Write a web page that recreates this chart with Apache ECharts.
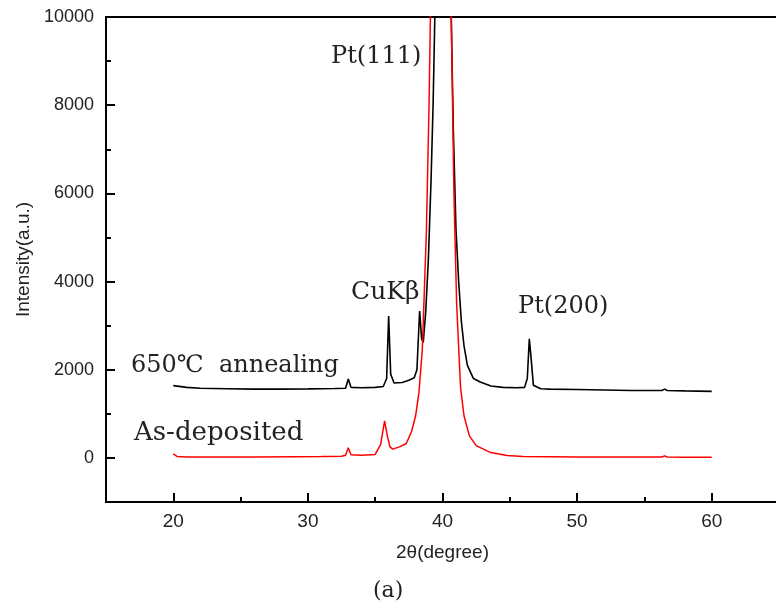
<!DOCTYPE html>
<html>
<head>
<meta charset="utf-8">
<script src="https://cdn.jsdelivr.net/npm/echarts@6/dist/echarts.min.js"></script>
<style>
html,body{margin:0;padding:0;background:#fff;}
#chart{width:776px;height:606px;}
</style>
</head>
<body>
<div id="chart"></div>
<script>
// 650℃ annealing (black)
var annealX = [20.0,21,22,24,26,28,30,32,32.8,33.0,33.2,34,35,35.6,35.85,36.0,36.15,36.4,37.0,37.5,37.9,38.1,38.3,38.45,38.57,38.75,38.95,39.15,39.3,39.43,39.7,39.95,40.2,40.5,40.65,40.8,41.0,41.2,41.4,41.6,41.85,42.3,42.8,43.6,44.5,45.5,46.1,46.3,46.45,46.6,46.75,47.3,48,50,52,54,56.3,56.5,56.7,58,60];
var annealY = [1640,1600,1580,1570,1560,1560,1565,1575,1580,1790,1600,1590,1600,1620,1800,3220,1900,1700,1710,1760,1820,2000,3330,2700,2620,3300,4500,6300,8000,10000,16000,20000,16000,11500,10000,7500,5200,4000,3100,2540,2100,1800,1720,1630,1600,1590,1600,1800,2700,2200,1650,1570,1560,1550,1540,1530,1530,1560,1530,1520,1510];
// As-deposited (red)
var depX = [20.0,20.3,21,23,26,29,31,32.5,32.8,33.0,33.2,34,35,35.4,35.7,35.9,36.1,36.3,36.8,37.3,37.7,38.0,38.25,38.5,38.8,39.0,39.1,39.5,39.9,40.3,40.65,40.85,41.05,41.34,41.6,42.0,42.5,43.5,44.8,46,48,50,53,56.3,56.5,56.7,58,60];
var depY = [90,30,20,20,20,25,30,40,60,230,70,60,80,300,840,500,250,200,250,320,600,950,1480,2460,5100,8000,10000,18000,22000,17000,10000,6000,3500,1600,950,500,280,130,55,30,25,20,20,20,45,20,15,15];

var xMajor = [20,30,40,50,60];
var xMinor = [25,35,45,55];
var yMajor = [0,2000,4000,6000,8000,10000];
var yMinor = [1000,3000,5000,7000,9000];

function pairs(xs, ys){ return xs.map(function(x,i){return [x, ys[i]];}); }

var chart = echarts.init(document.getElementById('chart'), null, {renderer:'canvas'});
var serif = '"DejaVu Serif", "Liberation Serif", serif';
var sans = '"Liberation Sans", Arial, sans-serif';
var txtColor = '#222';

function tickAxis(kind, vals, len){
  return {
    type: 'value',
    min: kind === 'x' ? 15 : -1000,
    max: kind === 'x' ? 65 : 10000,
    position: kind === 'x' ? 'bottom' : 'left',
    axisLine: {show: false, onZero: false},
    axisTick: {show: true, inside: true, length: len, customValues: vals, lineStyle: {color: '#000', width: 2}},
    axisLabel: {show: false},
    splitLine: {show: false}
  };
}

var option = {
  animation: false,
  backgroundColor: '#fff',
  grid: {
    left: 106, top: 17, right: -3, bottom: 104,
    containLabel: false, outerBoundsMode: 'none',
    show: true, borderColor: '#000', borderWidth: 2, backgroundColor: 'transparent'
  },
  xAxis: [
    {
      type: 'value', min: 15, max: 65, position: 'bottom',
      axisLine: {show: true, onZero: false, lineStyle: {color: '#000', width: 2}},
      axisTick: {show: false},
      axisLabel: {show: true, customValues: xMajor, fontFamily: sans, fontSize: 19, color: txtColor, margin: 10,
        formatter: function(v){ return String(v); }},
      splitLine: {show: false},
      name: '2θ(degree)', nameLocation: 'middle', nameGap: 41,
      nameTextStyle: {fontFamily: sans, fontSize: 19, color: txtColor}
    },
    tickAxis('x', xMajor, 9),
    tickAxis('x', xMinor, 5)
  ],
  yAxis: [
    {
      type: 'value', min: -1000, max: 10000, position: 'left',
      axisLine: {show: true, onZero: false, lineStyle: {color: '#000', width: 2}},
      axisTick: {show: false},
      axisLabel: {show: true, customValues: yMajor, fontFamily: sans, fontSize: 18, color: txtColor, margin: 12,
        formatter: function(v){ return String(v); }},
      splitLine: {show: false},
      name: 'Intensity(a.u.)', nameLocation: 'middle', nameGap: 60, nameRotate: 90,
      nameTextStyle: {fontFamily: sans, fontSize: 19, color: txtColor}
    },
    tickAxis('y', yMajor, 9),
    tickAxis('y', yMinor, 5)
  ],
  series: [
    {
      name: '650℃ annealing', type: 'line', xAxisIndex: 0, yAxisIndex: 0,
      data: pairs(annealX, annealY), showSymbol: false, symbol: 'none', clip: true,
      lineStyle: {color: '#000', width: 1.6}
    },
    {
      name: 'As-deposited', type: 'line', xAxisIndex: 0, yAxisIndex: 0,
      data: pairs(depX, depY), showSymbol: false, symbol: 'none', clip: true,
      lineStyle: {color: '#ff0000', width: 1.5}
    }
  ],
  graphic: [
    {type: 'text', left: 331, top: 45, style: {text: 'Pt(111)', font: '24px ' + serif, fill: txtColor}},
    {type: 'text', left: 351, top: 280, style: {text: 'CuKβ', font: '25px ' + serif, fill: txtColor}},
    {type: 'text', left: 518, top: 295, style: {text: 'Pt(200)', font: '24px ' + serif, fill: txtColor}},
    {type: 'text', left: 131, top: 354, style: {text: '650℃  annealing', font: '24px ' + serif, fill: txtColor}},
    {type: 'text', left: 134, top: 420, style: {text: 'As-deposited', font: '26px ' + serif, fill: txtColor}},
    {type: 'text', left: 373, top: 580, style: {text: '(a)', font: '22px ' + serif, fill: txtColor}}
  ]
};
chart.setOption(option);
</script>
</body>
</html>
